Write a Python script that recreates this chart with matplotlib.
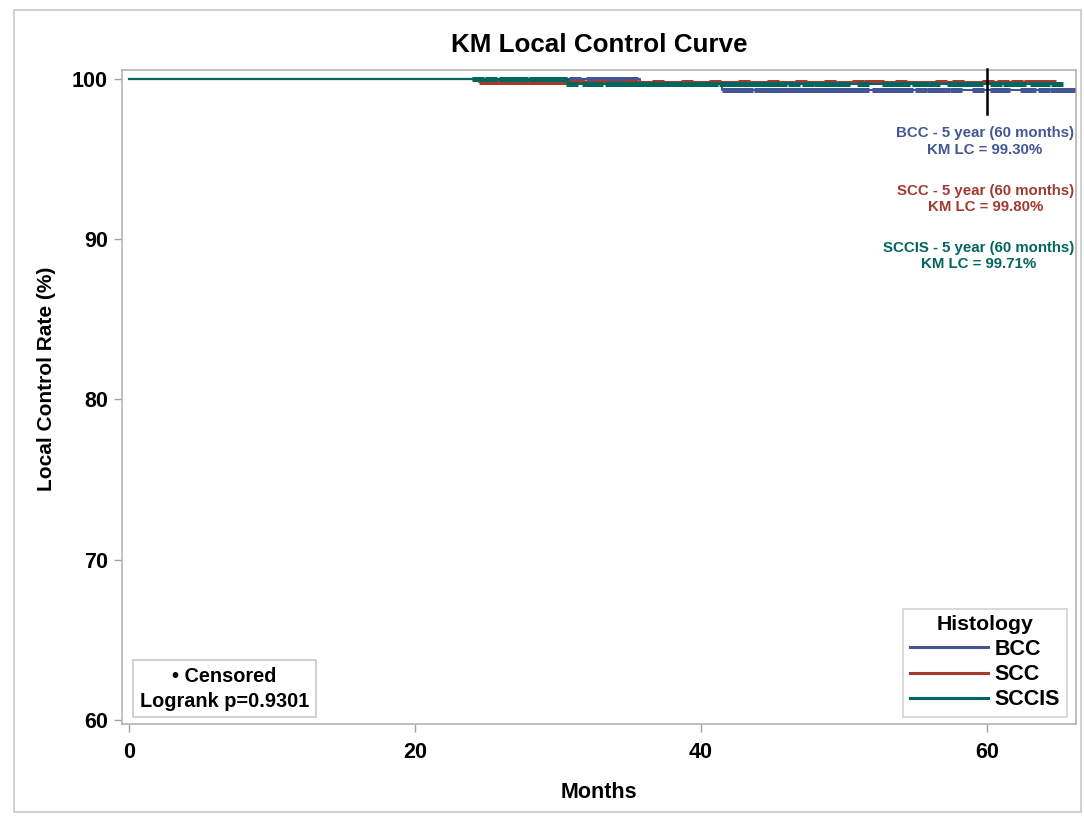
import numpy as np
import matplotlib
matplotlib.use("Agg")
import matplotlib.pyplot as plt
from matplotlib.lines import Line2D
from matplotlib.patches import Rectangle

plt.rcParams['font.family'] = ['Liberation Sans', 'DejaVu Sans']
plt.rcParams['font.weight'] = 'bold'

# ---------------- data ----------------
groups = ["BCC", "SCC", "SCCIS"]
colors = {"BCC": "#445694", "SCC": "#A23A2E", "SCCIS": "#01665E"}

# KM step curves (event times, survival %)
bcc_times = [0, 35.7, 41.5, 65.7]
bcc_surv = [100, 99.72, 99.30, 99.30]
scc_times = [0, 24.5, 64.4]
scc_surv = [100, 99.80, 99.80]
sccis_times = [0, 30.7, 64.9]
sccis_surv = [100, 99.71, 99.71]

# censored observation times (months)
bcc_cens = [31.2, 32.4, 33.1, 33.8, 34.5, 35.2,
            41.9, 42.6, 43.2, 44.1, 44.8, 45.5, 46.2, 46.9, 47.6, 48.3, 49.0,
            49.7, 50.4, 51.1, 51.3, 52.4, 53.1, 53.8, 54.4, 55.4, 56.2, 57.0,
            57.8, 59.4, 60.6, 61.2, 62.7, 63.0, 64.0, 64.8, 65.3, 65.7]
scc_cens = [24.9, 25.6, 26.3, 27.0, 27.7, 28.4, 29.1, 29.8, 30.4,
            31.5, 33.0, 35.0, 37.0, 39.0, 41.0, 43.0, 45.0, 47.0, 49.0, 51.0,
            51.8, 52.4, 54.0, 56.8, 58.0, 60.1, 61.1, 62.1, 63.0, 63.6, 64.4]
sccis_cens = [24.4, 25.3, 26.3, 27.0, 27.5, 28.4, 29.1, 29.8, 30.2,
              31.0, 32.1, 32.7, 33.7, 34.4, 35.1, 35.8, 36.5, 37.2, 37.9, 38.6,
              39.3, 40.0, 40.8, 41.7, 42.4, 43.1, 43.8, 44.5, 45.2, 45.6, 46.5,
              47.5, 48.3, 49.0, 49.7, 50.0, 51.3, 53.1, 53.8, 54.2, 55.2, 55.9,
              56.3, 57.6, 58.3, 59.0, 59.3, 60.6, 61.5, 62.3, 63.4, 64.0, 64.9]

curves = {
    "BCC": (bcc_times, bcc_surv, bcc_cens),
    "SCC": (scc_times, scc_surv, scc_cens),
    "SCCIS": (sccis_times, sccis_surv, sccis_cens),
}

five_year_lc = {"BCC": "99.30", "SCC": "99.80", "SCCIS": "99.71"}
landmark_month = 60
logrank_p = "0.9301"

x_ticks = [0, 20, 40, 60]
y_ticks = [60, 70, 80, 90, 100]

# ---------------- figure ----------------
fig = plt.figure(figsize=(10.84, 8.18), dpi=100)
ax = fig.add_axes([122 / 1084, 1 - 724 / 818, (1076 - 122) / 1084, (724 - 70) / 818])

# outer border
fig.patches.append(Rectangle((14 / 1084, 1 - 812 / 818), (1081 - 14) / 1084, (812 - 10) / 818,
                             transform=fig.transFigure, fill=False, edgecolor="#c8c8c8",
                             linewidth=1.2))


def step_value(times, surv, t):
    idx = np.searchsorted(np.asarray(times), t, side="right") - 1
    return np.asarray(surv)[idx]


for g in groups:
    t, s, c = curves[g]
    ax.step(t, s, where="post", color=colors[g], linewidth=1.5, zorder=3)
    cy = [step_value(t, s, ci) for ci in c]
    ax.plot(c, cy, linestyle="none", marker="_", markersize=8, markeredgewidth=3.6,
            color=colors[g], zorder=3)

# landmark line at 60 months
ax.plot([landmark_month, landmark_month], [97.8, 100.6], color="black", linewidth=1.8,
        zorder=4, clip_on=False)

ax.set_xlim(-0.49, 66.22)
ax.set_ylim(59.74, 100.56)
ax.set_xticks(x_ticks)
ax.set_yticks(y_ticks)
ax.tick_params(axis="both", direction="out", length=6, width=1, color="#a0a0a0",
               labelsize=15.5, pad=4)
ax.tick_params(axis="x", pad=7)
for lbl in ax.get_xticklabels() + ax.get_yticklabels():
    lbl.set_fontweight("bold")
for sp in ax.spines.values():
    sp.set_color("#b4b4b4")
    sp.set_linewidth(1.2)

ax.set_title("KM Local Control Curve", fontsize=18.7, fontweight="bold", pad=13)
ax.set_xlabel("Months", fontsize=15.5, fontweight="bold", labelpad=14)
ax.set_ylabel("Local Control Rate (%)", fontsize=15, fontweight="bold")
ax.yaxis.set_label_coords(-0.0695, 0.5275)

# 5-year annotations (right-aligned blocks, centred lines)
ann_y = {"BCC": 96.10, "SCC": 92.51, "SCCIS": 88.95}
for g in groups:
    ax.text(66.08, ann_y[g], f"{g} - 5 year (60 months)\nKM LC = {five_year_lc[g]}%",
            ha="right", va="center", multialignment="center", fontsize=10.8,
            fontweight="bold", color=colors[g], linespacing=1.2, zorder=5)

# censored / logrank box
ax.text(6.66, 61.93, f"\u2022 Censored\nLogrank p={logrank_p}", ha="center", va="center",
        multialignment="center", fontsize=14.3, fontweight="bold", linespacing=1.35,
        bbox=dict(boxstyle="square,pad=0.35", facecolor="white", edgecolor="#c8c8c8",
                  linewidth=1.2), zorder=5)

# legend
handles = [Line2D([0], [0], color=colors[g], linewidth=2.2) for g in groups]
leg = ax.legend(handles, groups, title="Histology", loc="lower right",
                bbox_to_anchor=(0.9946, 0.0044), frameon=True, fancybox=False,
                edgecolor="#c8c8c8", title_fontsize=15.3,
                handlelength=3.65, handletextpad=0.3, labelspacing=0.2,
                borderpad=0.3, borderaxespad=0.2, prop={"weight": "bold", "size": 15.5})
leg.get_title().set_fontweight("bold")
leg.get_frame().set_linewidth(1.2)

fig.savefig("out.png", dpi=100)
